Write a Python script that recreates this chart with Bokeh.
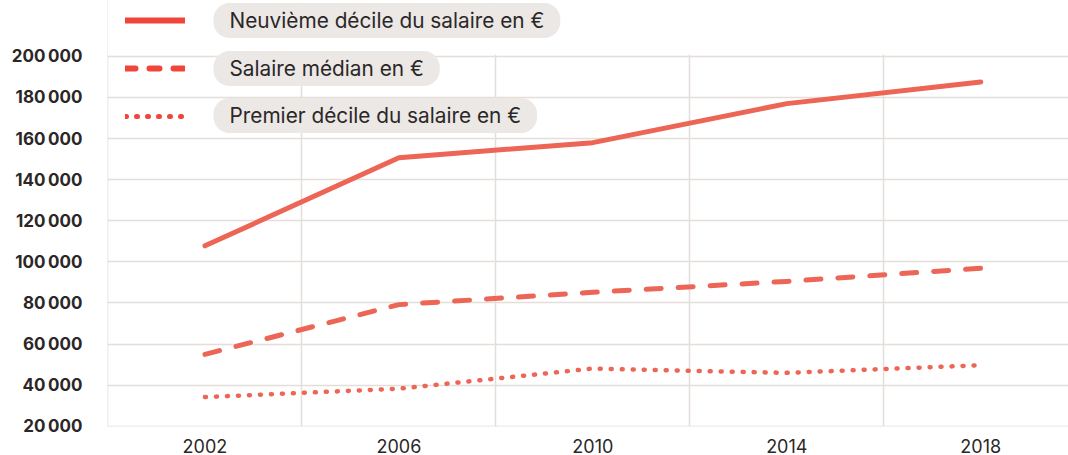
from bokeh.plotting import figure
from bokeh.models import Range1d, FixedTicker, Legend, LegendItem, Label, BoxAnnotation
from bokeh.embed import file_html
from bokeh.resources import INLINE

# ---- data ----
years = [2002, 2006, 2010, 2014, 2018]
p90 = [107800, 150700, 158000, 177000, 187500]
median = [55000, 79200, 85200, 90500, 96900]
p10 = [34200, 38300, 48100, 46000, 49700]
series_labels = ["Neuvième décile du salaire en €", "Salaire médian en €",
                 "Premier décile du salaire en €"]
y_ticks = [20000, 40000, 60000, 80000, 100000, 120000, 140000, 160000, 180000, 200000]
y_tick_labels = ["20\u202f000", "40\u202f000", "60\u202f000", "80\u202f000", "100\u202f000",
                 "120\u202f000", "140\u202f000", "160\u202f000", "180\u202f000", "200\u202f000"]
x_grid_years = [2000, 2004, 2008, 2012, 2016]

LINE = "#EC6555"
LEG = "#EF453B"
GRID = "#E4DEDB"
TXT = "#2B2727"
PILL = "#ECE8E6"
FONT = "Inter"

# frame spans the full height; the band above 200 000 is masked to hold the legend
p = figure(width=1068, height=455, x_range=Range1d(1999.99, 2019.81),
           y_range=Range1d(19900, 227170), output_backend="svg", toolbar_location=None,
           min_border_left=107, min_border_right=0, min_border_top=0, min_border_bottom=28)
p.outline_line_color = None
p.background_fill_color = "white"
p.border_fill_color = "white"

p.xaxis.ticker = FixedTicker(ticks=years)
p.xgrid.ticker = FixedTicker(ticks=x_grid_years)
p.yaxis.ticker = FixedTicker(ticks=y_ticks)
p.ygrid.ticker = FixedTicker(ticks=y_ticks)
p.yaxis.major_label_overrides = {t: l for t, l in zip(y_ticks, y_tick_labels)}
for ax in (p.xaxis, p.yaxis):
    ax.axis_line_color = None
    ax.major_tick_line_color = None
    ax.minor_tick_line_color = None
    ax.major_label_text_font = FONT
    ax.major_label_text_color = TXT
p.yaxis.major_label_text_font_style = "bold"
p.yaxis.major_label_text_font_size = "17px"
p.yaxis.major_label_standoff = 19
p.xaxis.major_label_text_font_size = "18px"
p.xaxis.major_label_standoff = 6
for g in (p.xgrid, p.ygrid):
    g.grid_line_color = GRID
    g.grid_line_width = 1.5

p.line(years, p90, line_color=LINE, line_width=5, line_cap="round", line_join="round")
p.line(years, median, line_color=LINE, line_width=5, line_cap="round", line_join="round",
       line_dash="15 17")
p.line(years, p10, line_color=LINE, line_width=4.5, line_cap="round", line_join="round",
       line_dash="1 10")

# mask above the 200 000 line
p.add_layout(BoxAnnotation(bottom=200800, fill_color="white", fill_alpha=1,
                           line_color=None))

# legend sample renderers (hidden in the plot, only their legend glyph is shown)
r1 = p.line(years, p90, line_color=LEG, line_width=6, line_cap="round", visible=False)
r2 = p.line(years, median, line_color=LEG, line_width=6, line_cap="round",
            line_dash="10 14", visible=False)
r3 = p.line(years, p10, line_color=LEG, line_width=5, line_cap="round",
            line_dash="1 10", visible=False)

legend = Legend(items=[LegendItem(label="", renderers=[r]) for r in (r1, r2, r3)],
                location=(18, 300), glyph_width=60, glyph_height=20, spacing=28,
                padding=0, margin=0, label_standoff=0, label_width=0,
                label_text_font_size="8px", background_fill_alpha=0, border_line_alpha=0,
                inactive_fill_alpha=0, click_policy="none")
p.add_layout(legend, "center")

pill_y = [406, 358, 311]
for txt, yy in zip(series_labels, pill_y):
    p.add_layout(Label(x=106, y=yy, x_units="screen", y_units="screen", text=txt,
                       text_font=FONT, text_font_size="20.8px", text_color=TXT,
                       text_baseline="middle", text_align="left",
                       background_fill_color=PILL, border_radius=16,
                       padding=dict(left=16, right=16, top=5, bottom=5)))

open("out.html", "w").write(file_html(p, INLINE))
